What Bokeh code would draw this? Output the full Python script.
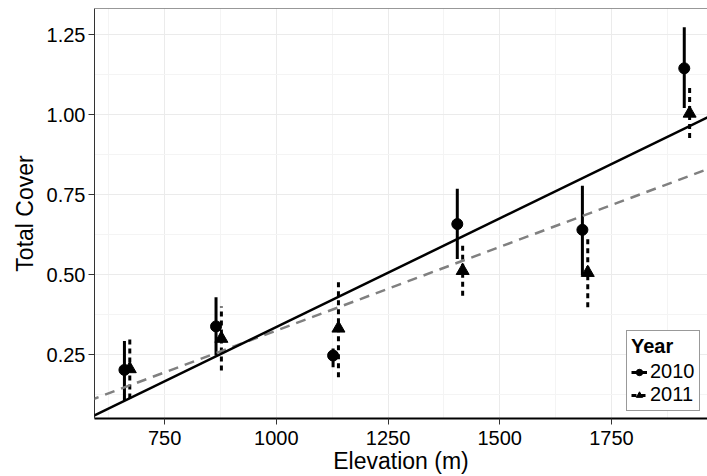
from bokeh.plotting import figure
from bokeh.models import (ColumnDataSource, FixedTicker, Legend, LegendItem,
                          Slope, Span)
from bokeh.transform import dodge
from bokeh.embed import file_html
from bokeh.resources import INLINE

# ---- data ----
elevation = [666, 871, 1133, 1411, 1691, 1919]
cover_2010 = [0.202, 0.338, 0.247, 0.658, 0.640, 1.145]
lo_2010 = [0.106, 0.247, 0.210, 0.549, 0.497, 1.021]
hi_2010 = [0.292, 0.429, 0.269, 0.768, 0.778, 1.273]
cover_2011 = [0.205, 0.300, 0.332, 0.512, 0.506, 1.004]
lo_2011 = [0.1125, 0.200, 0.179, 0.434, 0.398, 0.927]
hi_2011 = [0.306, 0.400, 0.4875, 0.591, 0.617, 1.085]
# linear fits (intercept, slope)
fit_2010 = (-0.343, 0.000679)
fit_2011 = (-0.198, 0.000523)
x_ticks = [750, 1000, 1250, 1500, 1750]
x_minor = [625, 875, 1125, 1375, 1625, 1875]
y_ticks = [0.25, 0.50, 0.75, 1.00, 1.25]
y_minor = [0.125, 0.375, 0.625, 0.875, 1.125]
years = ["2010", "2011"]

FONT = "Liberation Sans"

src10 = ColumnDataSource(dict(elev=elevation, y=cover_2010, lo=lo_2010, hi=hi_2010))
src11 = ColumnDataSource(dict(elev=elevation, y=cover_2011, lo=lo_2011, hi=hi_2011))

p = figure(width=707, height=476, x_range=(593, 1965), y_range=(0.05, 1.332),
           output_backend="svg", toolbar_location=None,
           min_border_left=94, min_border_right=0, min_border_top=8,
           min_border_bottom=58)
p.outline_line_color = None
p.background_fill_color = "white"
p.border_fill_color = "white"

# ticks / grids
p.xaxis.ticker = FixedTicker(ticks=x_ticks, minor_ticks=x_minor)
p.yaxis.ticker = FixedTicker(ticks=y_ticks, minor_ticks=y_minor)
p.yaxis.major_label_overrides = {v: f"{v:.2f}" for v in y_ticks}
p.xgrid.grid_line_color = "#EBEBEB"
p.ygrid.grid_line_color = "#EBEBEB"
p.xgrid.minor_grid_line_color = "#F4F4F4"
p.ygrid.minor_grid_line_color = "#F4F4F4"
p.xgrid.grid_line_width = 1
p.ygrid.grid_line_width = 1

for ax in (p.xaxis, p.yaxis):
    ax.minor_tick_line_color = None
    ax.major_tick_in = 0
    ax.major_tick_out = 6
    ax.major_tick_line_color = "#333333"
    ax.major_label_text_font = FONT
    ax.major_label_text_font_size = "20px"
    ax.major_label_text_color = "black"
    ax.axis_label_text_font = FONT
    ax.axis_label_text_font_size = "23px"
    ax.axis_label_text_font_style = "normal"
    ax.axis_label_text_color = "black"

p.xaxis.axis_label = "Elevation (m)"
p.yaxis.axis_label = "Total Cover"
p.xaxis.axis_line_color = "black"
p.xaxis.axis_line_width = 2
p.yaxis.axis_line_color = "#333333"
p.yaxis.axis_line_width = 1
p.xaxis.major_label_standoff = 6
p.xaxis.axis_label_standoff = 0
p.yaxis.major_label_standoff = 3
p.yaxis.axis_label_standoff = 6

p.add_layout(Span(location=1.332, dimension="width", line_color="#333333", line_width=1))

# regression lines
p.add_layout(Slope(gradient=fit_2011[1], y_intercept=fit_2011[0],
                   line_color="#808080", line_width=2.5, line_dash="10 7"))
p.add_layout(Slope(gradient=fit_2010[1], y_intercept=fit_2010[0],
                   line_color="black", line_width=2.5))

# error bars and points
off = 6
seg10 = p.segment(x0=dodge("elev", -off), y0="lo", x1=dodge("elev", -off), y1="hi",
                  source=src10, line_color="black", line_width=3)
pt10 = p.scatter(x=dodge("elev", -off), y="y", source=src10, marker="circle",
                 size=11, fill_color="black", line_color="black")
seg11 = p.segment(x0=dodge("elev", off), y0="lo", x1=dodge("elev", off), y1="hi",
                  source=src11, line_color="black", line_width=3, line_dash="5 4")
pt11 = p.scatter(x=dodge("elev", off), y="y", source=src11, marker="triangle",
                 size=13, fill_color="black", line_color="black")

legend = Legend(items=[LegendItem(label=years[0], renderers=[seg10, pt10]),
                       LegendItem(label=years[1], renderers=[seg11, pt11])],
                location=(532, 7))
legend.title = "Year"
legend.title_text_font = FONT
legend.title_text_font_size = "20px"
legend.title_text_font_style = "bold"
legend.title_text_color = "black"
legend.title_standoff = 2
legend.label_text_font = FONT
legend.label_text_font_size = "20px"
legend.label_text_color = "black"
legend.label_standoff = 3
legend.glyph_width = 16
legend.glyph_height = 22
legend.label_height = 22
legend.spacing = 0
legend.padding = 4
legend.margin = 0
legend.border_line_color = "#333333"
legend.border_line_width = 1
legend.background_fill_color = "white"
legend.background_fill_alpha = 1
p.add_layout(legend)

open("out.html", "w").write(file_html(p, INLINE))
